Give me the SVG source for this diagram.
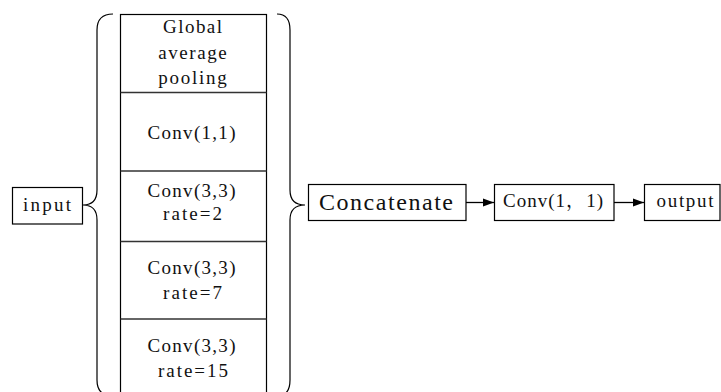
<svg xmlns="http://www.w3.org/2000/svg" width="721" height="392" viewBox="0 0 721 392">
<style>
.box{fill:#fff;stroke:#000;stroke-width:1.2}
.div{stroke:#333;stroke-width:1.5;fill:none}
.br{fill:none;stroke:#000;stroke-width:1.2}
.t{font-family:"Liberation Serif","Noto Serif CJK SC","Noto Sans CJK SC",serif;font-size:19px;fill:#111;text-anchor:middle}
.big{font-size:24px}
.ln{stroke:#000;stroke-width:1.3;fill:none}
</style>
<defs>
<marker id="ah" markerWidth="11" markerHeight="10" refX="11" refY="5" orient="auto" markerUnits="userSpaceOnUse">
<path d="M0,1 L11,5 L0,9 Z" fill="#000"/>
</marker>
</defs>
<rect width="721" height="392" fill="#fff"/>

<g id="input">
<rect class="box" x="12.5" y="187.5" width="70" height="36.5"/>
<text class="t" x="47" y="211" textLength="48" lengthAdjust="spacing">input</text>
</g>

<g id="left-brace">
<path class="br" d="M113,14 Q97,14 97,30 L97,190 Q97,205 83,205 Q97,205 97,220 L97,380 Q97,396 113,396"/>
</g>

<g id="stack">
<rect class="box" x="120.5" y="14.5" width="146" height="390"/>
<line class="div" x1="120.5" y1="92.5" x2="266.5" y2="92.5"/>
<line class="div" x1="120.5" y1="171" x2="266.5" y2="171"/>
<line class="div" x1="120.5" y1="241.5" x2="266.5" y2="241.5"/>
<line class="div" x1="120.5" y1="319" x2="266.5" y2="319"/>
</g>

<g id="gap">
<text class="t" x="192.5" y="33" textLength="59" lengthAdjust="spacing">Global</text>
<text class="t" x="192.5" y="59" textLength="68.6" lengthAdjust="spacing">average</text>
<text class="t" x="192.5" y="84" textLength="68.6" lengthAdjust="spacing">pooling</text>
</g>
<g id="conv11a">
<text class="t" x="191.5" y="139" textLength="88" lengthAdjust="spacing">Conv(1,1)</text>
</g>
<g id="conv33r2">
<text class="t" x="191.5" y="197" textLength="88" lengthAdjust="spacing">Conv(3,3)</text>
<text class="t" x="192.5" y="220" textLength="59" lengthAdjust="spacing">rate=2</text>
</g>
<g id="conv33r7">
<text class="t" x="191.5" y="274" textLength="88" lengthAdjust="spacing">Conv(3,3)</text>
<text class="t" x="192.5" y="298.5" textLength="59" lengthAdjust="spacing">rate=7</text>
</g>
<g id="conv33r15">
<text class="t" x="191.5" y="352" textLength="88" lengthAdjust="spacing">Conv(3,3)</text>
<text class="t" x="193" y="376.5" textLength="70" lengthAdjust="spacing">rate=15</text>
</g>

<g id="right-brace">
<path class="br" d="M277,14 Q290,14 290,30 L290,190 Q290,205 305,205 Q290,205 290,220 L290,380 Q290,396 277,396"/>
</g>

<g id="concatenate">
<rect class="box" x="308.5" y="184.5" width="157.5" height="36"/>
<text class="t big" x="386" y="209.5" textLength="134" lengthAdjust="spacing">Concatenate</text>
</g>

<g id="conv11b">
<rect class="box" x="494.5" y="184.5" width="119.5" height="36"/>
<text class="t" x="553" y="207" textLength="100" lengthAdjust="spacing">Conv(1，1)</text>
</g>

<g id="output">
<rect class="box" x="644.5" y="184.5" width="75.5" height="36"/>
<text class="t" x="685" y="207" textLength="57" lengthAdjust="spacing">output</text>
</g>

<g id="connectors">
<line class="ln" x1="466" y1="202.5" x2="494" y2="202.5" marker-end="url(#ah)"/>
<line class="ln" x1="614" y1="202.5" x2="644" y2="202.5" marker-end="url(#ah)"/>
</g>
</svg>
